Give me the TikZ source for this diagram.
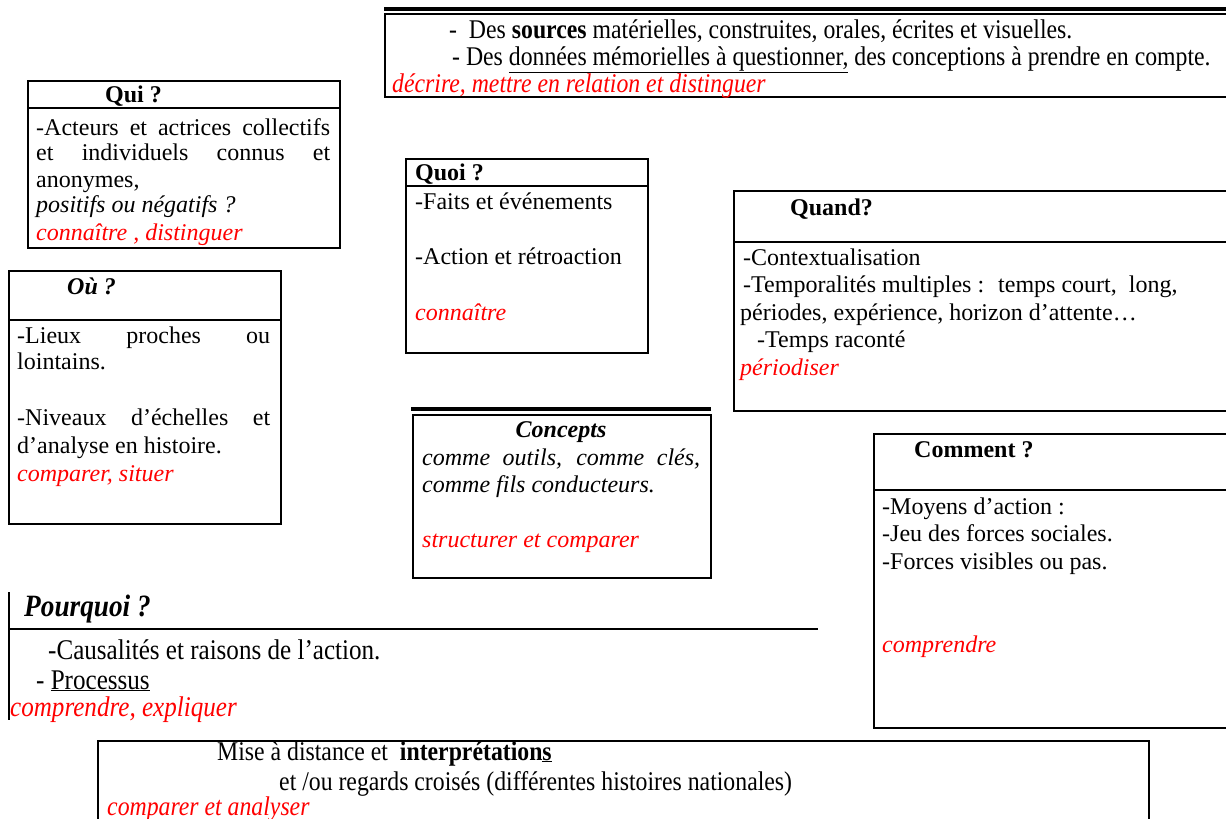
\documentclass[tikz,border=0pt]{standalone}
\usepackage{fontspec}
\setmainfont{Liberation Serif}
\newfontfamily\condfont[FakeStretch=0.88]{Liberation Serif}
\definecolor{verb}{RGB}{255,0,0}
\newcommand{\nsz}{\fontsize{24}{27}\selectfont}
\newcommand{\csz}{\condfont\fontsize{27}{30}\selectfont}
\newcommand{\psz}{\condfont\fontsize{28.5}{31}\selectfont}
\newcommand{\bsz}{\condfont\fontsize{31}{34}\selectfont}
\newcommand{\js}[2]{\makebox[#1][s]{#2}}
\tikzset{
  frame/.style={draw, line width=2pt, inner sep=0pt, anchor=north west},
  sep/.style={line width=2pt},
  ln/.style={anchor=base west, inner sep=0pt, font=\nsz},
  lnr/.style={anchor=base west, inner sep=0pt, text=verb, font=\nsz\itshape},
  cln/.style={anchor=base west, inner sep=0pt, font=\csz},
  clnr/.style={anchor=base west, inner sep=0pt, text=verb, font=\csz\itshape}
}
\begin{document}
\begin{tikzpicture}[x=1pt,y=-1pt]
\useasboundingbox[fill=white] (0,0) rectangle (1226,819);

% top box
\draw[line width=4pt] (384,8.5) -- (1240,8.5);
\node[frame, minimum width=860pt, minimum height=83pt] (src) at (384,13) {};
\node[cln] (src1) at (449,38) {-\ \ Des \textbf{sources} matérielles, construites, orales, écrites et visuelles.};
\node[cln] (src2) at (452,65) {- Des \underline{données mémorielles à questionner,} des conceptions à prendre en compte.};
\node[clnr] (src3) at (392,92) {décrire, mettre en relation et distinguer};

% Qui
\node[frame, minimum width=312pt, minimum height=167pt] (qui) at (27,80) {};
\draw[sep] (27,108) -- (339,108);
\node[ln, font=\nsz\bfseries] (quih) at (105,102) {Qui ?};
\node[ln] (qui1) at (36,135) {\js{294pt}{-Acteurs et actrices collectifs}};
\node[ln] (qui2) at (36,160) {\js{294pt}{et individuels connus et}};
\node[ln] (qui3) at (36,187) {anonymes,};
\node[ln, font=\nsz\itshape] (qui4) at (36,212) {positifs ou négatifs ?};
\node[lnr] (qui5) at (36,240) {connaître , distinguer};

% Ou
\node[frame, minimum width=272pt, minimum height=253pt] (ou) at (8,270) {};
\draw[sep] (8,320) -- (280,320);
\node[ln, font=\nsz\bfseries\itshape] (ouh) at (67,294) {Où ?};
\node[ln] (ou1) at (17,343) {\js{253pt}{-Lieux proches ou}};
\node[ln] (ou2) at (17,369) {lointains.};
\node[ln] (ou3) at (17,425) {\js{253pt}{-Niveaux d’échelles et}};
\node[ln] (ou4) at (17,453) {d’analyse en histoire.};
\node[lnr] (ou5) at (17,481) {comparer, situer};

% Quoi
\node[frame, minimum width=242pt, minimum height=194pt] (quoi) at (405,158) {};
\draw[sep] (405,186) -- (647,186);
\node[ln, font=\nsz\bfseries] (quoih) at (415,180) {Quoi ?};
\node[ln] (quoi1) at (415,209) {-Faits et événements};
\node[ln] (quoi2) at (415,264) {-Action et rétroaction};
\node[lnr] (quoi3) at (415,320) {connaître};

% Concepts
\draw[line width=3.5pt] (411,409) -- (711,409);
\node[frame, minimum width=298pt, minimum height=163pt] (conc) at (412,414) {};
\node[anchor=base, inner sep=0pt, font=\nsz\bfseries\itshape] (conch) at (561,437) {Concepts};
\node[ln, font=\nsz\itshape] (conc1) at (422,465) {\js{278pt}{comme outils, comme clés,}};
\node[ln, font=\nsz\itshape] (conc2) at (422,492) {comme fils conducteurs.};
\node[lnr] (conc3) at (422,547) {structurer et comparer};

% Quand
\node[frame, minimum width=510pt, minimum height=220pt] (quand) at (733,190) {};
\draw[sep] (733,242) -- (1240,242);
\node[ln, font=\nsz\bfseries] (quandh) at (790,215) {Quand?};
\node[ln] (quand1) at (743,265) {-Contextualisation};
\node[ln] (quand2) at (743,292) {-Temporalités multiples :~ temps court,~ long,};
\node[ln] (quand3) at (740,320) {périodes, expérience, horizon d’attente…};
\node[ln] (quand4) at (757,347) {-Temps raconté};
\node[lnr] (quand5) at (740,375) {périodiser};

% Comment
\node[frame, minimum width=370pt, minimum height=294pt] (comm) at (873,433) {};
\draw[sep] (873,490) -- (1240,490);
\node[ln, font=\nsz\bfseries] (commh) at (914,457) {Comment ?};
\node[ln] (comm1) at (882,514) {-Moyens d’action :};
\node[ln] (comm2) at (882,541) {-Jeu des forces sociales.};
\node[ln] (comm3) at (882,569) {-Forces visibles ou pas.};
\node[lnr] (comm4) at (882,652) {comprendre};

% Pourquoi
\draw[line width=1.5pt] (9,592) -- (9,720);
\draw[sep] (9,629) -- (818,629);
\node[anchor=base west, inner sep=0pt, font=\bsz\bfseries\itshape] (pqh) at (24,616) {Pourquoi ?};
\node[anchor=base west, inner sep=0pt, font=\psz] (pq1) at (48,659) {-Causalités et raisons de l’action.};
\node[anchor=base west, inner sep=0pt, font=\psz] (pq2) at (36,689) {- \underline{Processus}};
\node[anchor=base west, inner sep=0pt, text=verb, font=\psz\itshape] (pq3) at (10,716) {comprendre, expliquer};

% bottom box
\node[frame, minimum width=1051pt, minimum height=110pt] (interp) at (97,740) {};
\node[cln] (int1) at (217,760) {Mise à distance et\ \ \textbf{interprétation\underline{s}}};
\node[cln] (int2) at (279,790) {et /ou regards croisés (différentes histoires nationales)};
\node[clnr] (int3) at (107,815) {comparer et analyser};
\end{tikzpicture}
\end{document}
